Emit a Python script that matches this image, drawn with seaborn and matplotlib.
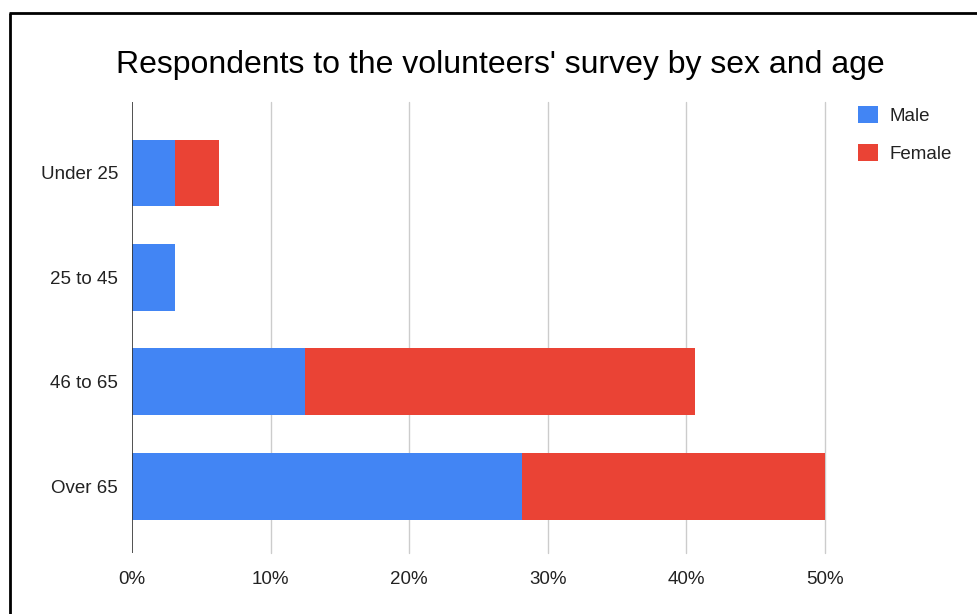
import matplotlib
matplotlib.use("Agg")
import matplotlib.pyplot as plt
import seaborn as sns
import pandas as pd
from matplotlib.patches import Patch
from matplotlib.lines import Line2D

categories = ["Under 25", "25 to 45", "46 to 65", "Over 65"]
male = [3.125, 3.125, 12.5, 28.125]
female = [3.125, 0.0, 28.125, 21.875]
x_ticks = [0, 10, 20, 30, 40, 50]
x_tick_labels = ["0%", "10%", "20%", "30%", "40%", "50%"]

sns.set_theme(style="white")
plt.rcParams["font.family"] = ["Liberation Sans", "DejaVu Sans"]

df = pd.DataFrame({"cat": categories, "male": male, "female": female})
df["total"] = df["male"] + df["female"]

BLUE = "#4285F4"
RED = "#EA4335"

fig = plt.figure(figsize=(9.78, 6.14), dpi=100)
ax = fig.add_axes([132/978, 61/614, (825-132)/978, (553-102)/614])

sns.barplot(data=df, y="cat", x="total", color=RED, width=0.64, ax=ax,
            orient="h", saturation=1, order=categories, linewidth=0)
sns.barplot(data=df, y="cat", x="male", color=BLUE, width=0.64, ax=ax,
            orient="h", saturation=1, order=categories, linewidth=0)

ax.set_xlim(0, 50)
ax.set_ylim(3.64, -0.68)
ax.set_xticks(x_ticks)
ax.set_xticklabels(x_tick_labels, fontsize=13.5, color="#222222")
ax.tick_params(axis="y", labelsize=13.5, labelcolor="#222222", length=0, pad=10)
ax.tick_params(axis="x", length=0, pad=13)
ax.set_xlabel("")
ax.set_ylabel("")
for s in ax.spines.values():
    s.set_visible(False)
for t in x_ticks[1:]:
    ax.axvline(t, color="#cccccc", lw=1, zorder=0, clip_on=False)
ax.axvline(0, color="#333333", lw=1.2, zorder=3)

fig.text(500/978, 1 - 65/614, "Respondents to the volunteers' survey by sex and age",
         ha="center", va="center", fontsize=23, color="#000000")

handles = [Patch(facecolor=BLUE, edgecolor="none", label="Male"),
           Patch(facecolor=RED, edgecolor="none", label="Female")]
fig.legend(handles=handles, loc="upper left", bbox_to_anchor=(841/978, 1 - 89/614),
           frameon=False, fontsize=13.5, handlelength=1.05, handleheight=1.05,
           handletextpad=0.65, labelspacing=1.0, labelcolor="#222222")

# image border (left and top)
fig.add_artist(Line2D([9.5/978, 9.5/978], [0, 1 - 12.5/614], color="black", lw=2,
                      transform=fig.transFigure, solid_capstyle="butt"))
fig.add_artist(Line2D([8.5/978, 1], [1 - 12.5/614, 1 - 12.5/614], color="black", lw=2,
                      transform=fig.transFigure, solid_capstyle="butt"))

fig.savefig("out.png", dpi=100)
